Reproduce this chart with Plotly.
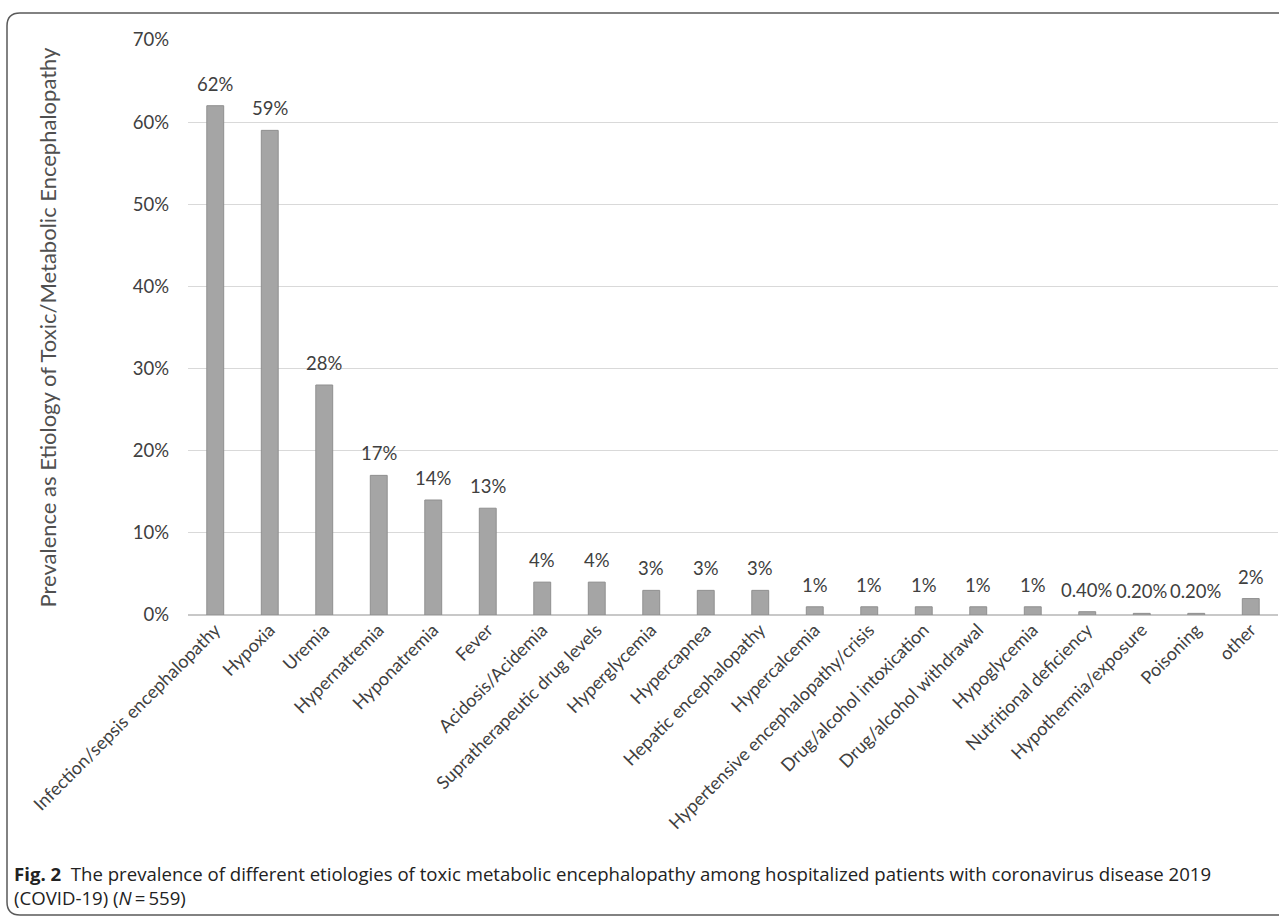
import plotly.graph_objects as go

categories = ["Infection/sepsis encephalopathy", "Hypoxia", "Uremia", "Hypernatremia",
              "Hyponatremia", "Fever", "Acidosis/Acidemia", "Supratherapeutic drug levels",
              "Hyperglycemia", "Hypercapnea", "Hepatic encephalopathy", "Hypercalcemia",
              "Hypertensive encephalopathy/crisis", "Drug/alcohol intoxication",
              "Drug/alcohol withdrawal", "Hypoglycemia", "Nutritional deficiency",
              "Hypothermia/exposure", "Poisoning", "other"]
values = [62, 59, 28, 17, 14, 13, 4, 4, 3, 3, 3, 1, 1, 1, 1, 1, 0.4, 0.2, 0.2, 2]
labels = ["62%", "59%", "28%", "17%", "14%", "13%", "4%", "4%", "3%", "3%", "3%",
          "1%", "1%", "1%", "1%", "1%", "0.40%", "0.20%", "0.20%", "2%"]
y_ticks = [0, 10, 20, 30, 40, 50, 60, 70]
y_ticktext = ["0%", "10%", "20%", "30%", "40%", "50%", "60%", "70%"]

W, H = 1279, 919
ML, MR, MT, MB = 188, 1, 40, 304
PW, PH = W - ML - MR, H - MT - MB

def px(x):
    return (x - ML) / PW

def py(y):
    return (H - MB - y) / PH

FONT = "Lato"
TXT = "#404040"
CAP_FONT = "Open Sans"

fig = go.Figure()
fig.add_trace(go.Bar(
    x=categories, y=values,
    marker=dict(color="#a5a5a5", line=dict(color="#8f8f8f", width=1)),
    width=0.31,
    hoverinfo="skip",
))

for c, v, t in zip(categories, values, labels):
    fig.add_annotation(x=c, y=v, text=t, showarrow=False, yanchor="bottom",
                       yshift=9, font=dict(family=FONT, size=18.5, color=TXT))

# y-axis title
fig.add_annotation(x=px(47), y=0.5, xref="paper", yref="paper", textangle=-90,
                   showarrow=False, xanchor="center", yanchor="middle",
                   text="Prevalence as Etiology of Toxic/Metabolic Encephalopathy",
                   font=dict(family=FONT, size=22, color="#505050"))

# rounded frame
r = 13
x0, y0, x1, y1 = 7, 13, 1290, 915
path = (f"M {px(x0)},{py(y0 + r)} "
        f"Q {px(x0)},{py(y0)} {px(x0 + r)},{py(y0)} "
        f"L {px(x1)},{py(y0)} "
        f"M {px(x0)},{py(y0 + r)} L {px(x0)},{py(y1 - r)} "
        f"Q {px(x0)},{py(y1)} {px(x0 + r)},{py(y1)} L {px(x1)},{py(y1)}")
fig.add_shape(type="path", path=path, xref="paper", yref="paper",
              line=dict(color="#5a5a5a", width=1.5), layer="above")

fig.add_annotation(x=px(12), y=py(885), xref="paper", yref="paper",
                   xanchor="left", yanchor="middle", showarrow=False, align="left",
                   text="<b>Fig. 2</b>  The prevalence of different etiologies of toxic metabolic encephalopathy among hospitalized patients with coronavirus disease 2019"
                        "<br>(COVID-19) (<i>N</i>\u2009=\u2009559)",
                   font=dict(family=CAP_FONT, size=18.6, color="#222222"))

fig.update_layout(
    width=W, height=H,
    margin=dict(l=ML, r=MR, t=MT, b=MB),
    plot_bgcolor="white", paper_bgcolor="white",
    showlegend=False,
    bargap=0.69,
    xaxis=dict(tickangle=-45, tickfont=dict(family=FONT, size=18, color=TXT),
               showgrid=False, showline=False, ticks="", automargin=False),
    yaxis=dict(range=[0, 70], tickvals=y_ticks, ticktext=y_ticktext,
               tickfont=dict(family=FONT, size=18.5, color=TXT),
               showgrid=True, gridcolor="#d9d9d9", gridwidth=1,
               zeroline=True, zerolinecolor="#c8c8c8", zerolinewidth=2,
               ticks="", ticklabelstandoff=18, automargin=False),
)

fig.write_html("out.html")
